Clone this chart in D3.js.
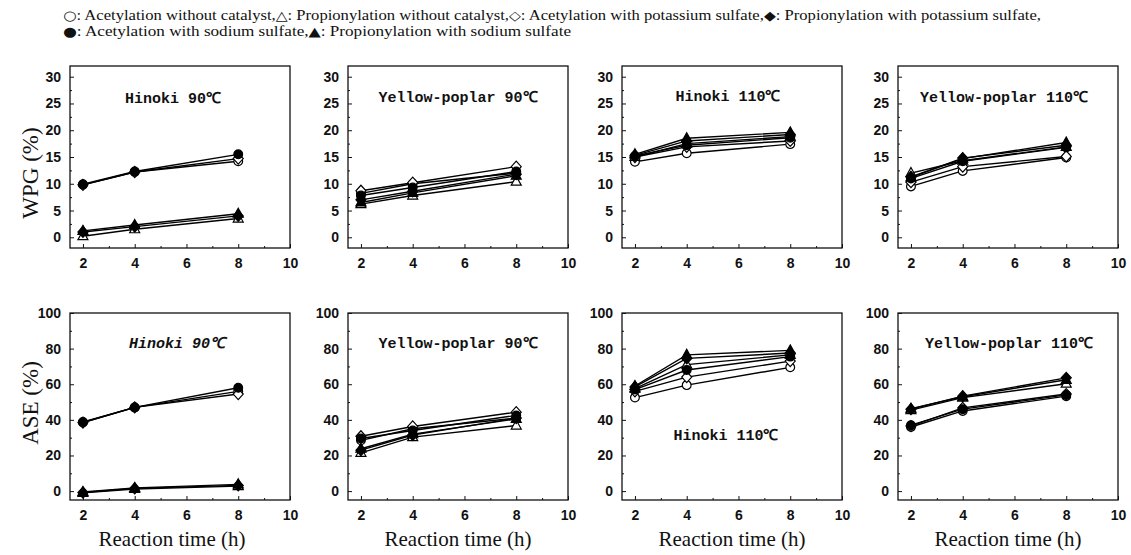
<!DOCTYPE html>
<html><head><meta charset="utf-8">
<script src="https://cdn.jsdelivr.net/npm/d3@7"></script>
<style>body{margin:0;background:#fff}svg{display:block}</style>
</head><body>
<svg id="c" width="1131" height="555"></svg>
<script>
// ---------------- data ----------------
const times = [2, 4, 8];
const xTicks = [2, 4, 6, 8, 10];
const wpgTicks = [0, 5, 10, 15, 20, 25, 30];
const aseTicks = [0, 20, 40, 60, 80, 100];
const seriesKeys = ["A0", "P0", "AK", "PK", "ANa", "PNa"];
const seriesNames = ["Acetylation without catalyst", "Propionylation without catalyst",
  "Acetylation with potassium sulfate", "Propionylation with potassium sulfate",
  "Acetylation with sodium sulfate", "Propionylation with sodium sulfate"];
const panelTitles = ["Hinoki 90℃", "Yellow-poplar 90℃", "Hinoki 110℃", "Yellow-poplar 110℃"];
const yLabels = ["WPG (%)", "ASE (%)"];
const xLabel = "Reaction time (h)";

// WPG (%) per panel, rows in order of seriesKeys
const wpgHinoki90 = [[9.8,12.2,14.2],[0.2,1.5,3.5],[9.8,12.2,14.7],[1.0,2.0,4.0],[9.9,12.3,15.5],[1.2,2.3,4.4]];
const wpgPoplar90 = [[8.2,10.0,12.0],[6.2,7.8,10.4],[8.7,10.2,13.2],[7.0,8.6,11.8],[7.8,9.3,12.3],[6.5,8.3,11.5]];
const wpgHinoki110 = [[14.1,15.7,17.4],[15.0,17.5,18.8],[15.0,16.9,18.0],[15.3,18.0,19.2],[15.2,17.2,18.6],[15.5,18.5,19.6]];
const wpgPoplar110 = [[9.5,12.4,14.9],[12.0,14.3,16.9],[10.3,13.2,15.1],[11.3,14.8,17.2],[11.0,14.2,16.8],[11.2,14.7,17.7]];
// ASE (%)
const aseHinoki90 = [[38.5,47.0,56.0],[-1.0,1.2,2.8],[38.5,47.0,54.5],[-0.8,1.5,3.2],[38.8,47.0,58.0],[-0.5,1.8,3.8]];
const asePoplar90 = [[28.5,35.0,41.0],[21.5,30.3,36.8],[30.8,36.3,44.3],[23.0,31.5,41.0],[29.5,34.0,42.5],[23.8,32.0,40.5]];
const aseHinoki110 = [[52.5,59.5,69.5],[57.5,71.0,76.5],[56.0,64.0,73.0],[58.5,74.5,77.5],[57.0,68.0,75.5],[59.0,76.5,79.0]];
const asePoplar110 = [[36.0,45.0,53.3],[45.5,52.5,60.3],[36.5,46.7,54.5],[46.0,53.3,63.6],[37.0,46.0,54.0],[46.3,53.0,62.5]];

const rowsData = [
  [wpgHinoki90, wpgPoplar90, wpgHinoki110, wpgPoplar110],
  [aseHinoki90, asePoplar90, aseHinoki110, asePoplar110]
];

// ---------------- layout ----------------
const svg = d3.select("#c");
const panelLefts = [70, 348, 622, 898];
const panelW = 220;
const rowsGeom = [
  {top: 66, bottom: 248, domain: [-2, 32], ticks: wpgTicks, minor: 2.5},
  {top: 313, bottom: 500, domain: [-5, 100], ticks: aseTicks, minor: 10}
];
const titlePos = [
  [{dx: -7, y: 103, italic: false}, {dx: 0, y: 102, italic: false}, {dx: -4, y: 101, italic: false}, {dx: -4, y: 102, italic: false}],
  [{dx: -3, y: 348, italic: true}, {dx: 0, y: 348, italic: false}, {dx: -6, y: 440, italic: false}, {dx: 1, y: 348, italic: false}]
];
const markerStyle = {
  A0: {shape: "circle", fill: "#fff"},
  P0: {shape: "triangle", fill: "#fff"},
  AK: {shape: "diamond", fill: "#fff"},
  PK: {shape: "diamond", fill: "#000"},
  ANa: {shape: "circle", fill: "#000"},
  PNa: {shape: "triangle", fill: "#000"}
};
function markerPath(shape) {
  if (shape === "circle") return d3.symbol(d3.symbolCircle, 60)();
  if (shape === "triangle") return "M0,-5.5L5,3.5L-5,3.5Z";
  return "M0,-5.5L5,0L0,5.5L-5,0Z";
}

// ---------------- legend ----------------
const leg = svg.append("g").attr("font-family", "Liberation Serif, serif").attr("font-size", 14).attr("fill", "#111");
const sym = {A0: "○", P0: "△", AK: "◇", PK: "◆", ANa: "●", PNa: "▲"};
function legendLine(idx, y, len, trailing) {
  const t = leg.append("text").attr("x", 63).attr("y", y).attr("textLength", len).attr("lengthAdjust", "spacingAndGlyphs");
  idx.forEach((i, k) => {
    t.append("tspan").attr("font-family", "DejaVu Sans").attr("font-size", 13).text(sym[seriesKeys[i]]);
    t.append("tspan").text(": " + seriesNames[i] + ((k < idx.length - 1 || trailing) ? "," : ""));
  });
}
legendLine([0,1,2,3], 20, 978, true);
legendLine([4,5], 36, 508, false);

// ---------------- panels ----------------
rowsGeom.forEach((rg, r) => {
  const y = d3.scaleLinear().domain(rg.domain).range([rg.bottom, rg.top]);
  panelLefts.forEach((left, p) => {
    const x = d3.scaleLinear().domain([1.5, 10]).range([left, left + panelW]);
    const g = svg.append("g");
    g.append("rect").attr("x", left).attr("y", rg.top).attr("width", panelW).attr("height", rg.bottom - rg.top)
      .attr("fill", "none").attr("stroke", "#111").attr("stroke-width", 1.3);
    g.append("g").attr("transform", `translate(0,${rg.bottom})`)
      .call(d3.axisBottom(x).tickValues(xTicks).tickSizeInner(-4).tickSizeOuter(0).tickPadding(10));
    g.append("g").attr("transform", `translate(0,${rg.bottom})`)
      .call(d3.axisBottom(x).tickValues([3,5,7,9]).tickSizeInner(-2).tickSizeOuter(0).tickFormat(""));
    g.append("g").attr("transform", `translate(${left},0)`)
      .call(d3.axisLeft(y).tickValues(rg.ticks).tickSizeInner(-4).tickSizeOuter(0).tickPadding(9));
    const minors = d3.range(rg.ticks[0] + rg.minor, rg.ticks[rg.ticks.length - 1], rg.minor * 2);
    g.append("g").attr("transform", `translate(${left},0)`)
      .call(d3.axisLeft(y).tickValues(minors).tickSizeInner(-2).tickSizeOuter(0).tickFormat(""));
    g.selectAll(".domain").remove();
    g.selectAll(".tick line").attr("stroke", "#111");
    g.selectAll(".tick text").attr("font-family", "Liberation Sans, Arial, sans-serif")
      .attr("font-size", 14).attr("font-weight", "bold").attr("fill", "#111");

    const data = rowsData[r][p];
    const line = d3.line().x((d, i) => x(times[i])).y(d => y(d));
    data.forEach(vals => {
      g.append("path").attr("d", line(vals)).attr("fill", "none").attr("stroke", "#000").attr("stroke-width", 1.4);
    });
    data.forEach((vals, s) => {
      const st = markerStyle[seriesKeys[s]];
      g.selectAll(null).data(vals).enter().append("path")
        .attr("d", markerPath(st.shape))
        .attr("transform", (d, i) => `translate(${x(times[i])},${y(d)})`)
        .attr("fill", st.fill).attr("stroke", "#000").attr("stroke-width", 1.2);
    });

    const tp = titlePos[r][p];
    g.append("text").attr("x", left + panelW / 2 + tp.dx).attr("y", tp.y)
      .attr("text-anchor", "middle").attr("font-family", "Liberation Mono, monospace")
      .attr("font-weight", "bold").attr("font-size", 15).attr("font-style", tp.italic ? "italic" : "normal")
      .attr("fill", "#111").text(panelTitles[p]);

    if (r === 1) {
      g.append("text").attr("x", left + panelW / 2 + (p === 0 ? -8 : 0)).attr("y", 546)
        .attr("text-anchor", "middle").attr("font-family", "Liberation Serif, Times New Roman, serif")
        .attr("font-size", 21).attr("fill", "#111").text(xLabel);
    }
  });
  const cy = r === 0 ? 173 : 403;
  svg.append("text").attr("transform", `translate(38,${cy}) rotate(-90)`)
    .attr("text-anchor", "middle").attr("font-family", "Liberation Serif, Times New Roman, serif")
    .attr("font-size", 23).attr("fill", "#111").text(yLabels[r]);
});
</script>
</body></html>
